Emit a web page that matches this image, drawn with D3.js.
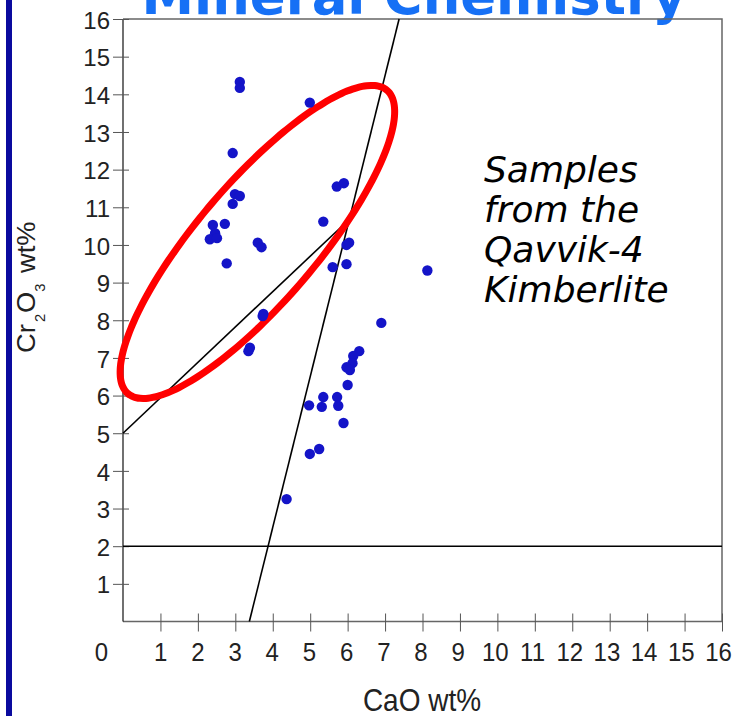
<!DOCTYPE html>
<html>
<head>
<meta charset="utf-8">
<script src="https://cdn.jsdelivr.net/npm/d3@7/dist/d3.min.js"></script>
<style>
  html, body { margin: 0; padding: 0; background: #fff; }
  svg { display: block; }
</style>
</head>
<body>
<svg id="chart" width="733" height="716"></svg>
<script>
// ---------- data ----------
const caO = [3.12, 3.12, 4.99, 2.93, 2.99, 3.12, 2.93, 2.40, 2.72, 2.46, 2.32, 2.51,
             3.60, 3.70, 2.77, 5.71, 5.90, 5.35, 5.97, 6.04, 5.60, 5.97, 8.13, 3.75,
             3.73, 3.39, 3.35, 6.90, 6.31, 6.15, 6.13, 5.97, 6.06, 6.00, 5.35, 5.72,
             4.97, 5.31, 5.75, 5.89, 5.24, 4.99, 4.37];
const cr2o3 = [14.33, 14.17, 13.78, 12.44, 11.35, 11.30, 11.09, 10.53, 10.56, 10.31, 10.15, 10.18,
               10.06, 9.94, 9.51, 11.55, 11.64, 10.62, 10.00, 10.06, 9.41, 9.49, 9.32, 8.17,
               8.11, 7.27, 7.18, 7.93, 7.18, 7.05, 6.86, 6.75, 6.68, 6.28, 5.96, 5.96,
               5.74, 5.70, 5.73, 5.27, 4.58, 4.45, 3.25];
const xTickValues = [1,2,3,4,5,6,7,8,9,10,11,12,13,14,15,16];
const yTickValues = [1,2,3,4,5,6,7,8,9,10,11,12,13,14,15,16];
const axisDomain = [0, 16];
// guide lines
const hLineCr = 2;                       // Cr2O3 = 2 horizontal line
const steepLine = {a: 3.375, b: 0.25};   // CaO = a + b*Cr2O3
const diagLine = {c: 5.0, m: 0.94};      // Cr2O3 = c + m*CaO (until steep line)
// highlighted field (ellipse, data units)
const ellipseField = {cx: 3.59, cy: 10.08, rx: 5.31, ry: 1.59, angleDeg: 49.3};
const titleText = "Mineral Chemistry";
const noteLines = ["Samples", "from the", "Qavvik-4", "Kimberlite"];

// ---------- chart ----------
const svg = d3.select("#chart");
const x = d3.scaleLinear().domain(axisDomain).range([123, 722]);
const y = d3.scaleLinear().domain(axisDomain).range([621.5, 19]);

// left blue bar
svg.append("rect").attr("x", 6).attr("y", 0).attr("width", 6).attr("height", 716).attr("fill", "#0a0a9e");

// title (cut off at top)
svg.append("text").attr("x", 414).attr("y", 14)
  .attr("text-anchor", "middle")
  .attr("font-family", "DejaVu Sans, Verdana, sans-serif")
  .attr("font-weight", "bold").attr("font-size", 54)
  .attr("fill", "#1670f5")
  .attr("textLength", 545).attr("lengthAdjust", "spacingAndGlyphs")
  .text(titleText);

// frame (top/right)
svg.append("path")
  .attr("d", `M${x(0)},${y(16)}H${x(16)}V${y(0)}`)
  .attr("fill", "none").attr("stroke", "#666").attr("stroke-width", 1.5);

// axes
const xAxis = svg.append("g").attr("transform", `translate(0,${y(0)})`)
  .call(d3.axisBottom(x).tickValues(xTickValues).tickFormat(d3.format("d")).tickSizeOuter(0));
xAxis.select(".domain").attr("d", `M${x(0)},0H${x(16)}`).attr("stroke", "#666").attr("stroke-width", 1.5);
xAxis.selectAll(".tick line").attr("y1", -8).attr("y2", 10).attr("stroke", "#555");
xAxis.selectAll(".tick text").attr("y", 0).attr("dy", 0)
  .attr("transform", d => `translate(${-0.25 * d},39.5) scale(1,1.08)`)
  .attr("font-family", "Liberation Sans, Arial, sans-serif").attr("font-size", 24).attr("fill", "#222");

const yAxis = svg.append("g").attr("transform", `translate(${x(0)},0)`)
  .call(d3.axisLeft(y).tickValues(yTickValues).tickFormat(d3.format("d")).tickSizeOuter(0));
yAxis.select(".domain").attr("d", `M0,${y(0)}V${y(16)}`).attr("stroke", "#111").attr("stroke-width", 1.2);
yAxis.selectAll(".tick line").attr("x1", 6).attr("x2", -10).attr("stroke", "#555");
yAxis.selectAll(".tick text").attr("x", -13).attr("dy", "0.38em")
  .attr("font-family", "Liberation Sans, Arial, sans-serif").attr("font-size", 24).attr("fill", "#222");

// origin label
svg.append("text").attr("transform", "translate(108,661) scale(1,1.08)").attr("text-anchor", "end")
  .attr("font-family", "Liberation Sans, Arial, sans-serif").attr("font-size", 24).attr("fill", "#222")
  .text("0");

// axis titles
svg.append("text").attr("transform", "translate(422,711) scale(1,1.12)").attr("text-anchor", "middle")
  .attr("font-family", "Liberation Sans, Arial, sans-serif").attr("font-size", 28).attr("fill", "#222")
  .text("CaO wt%");

const yl = svg.append("text").attr("transform", "translate(35,353) rotate(-90) scale(1.05,1)")
  .attr("font-family", "Liberation Sans, Arial, sans-serif").attr("font-size", 26).attr("fill", "#222");
yl.append("tspan").text("Cr");
yl.append("tspan").attr("font-size", 14).attr("dx", 2).attr("dy", 10).text("2");
yl.append("tspan").attr("dx", 1).attr("dy", -10).text("O");
yl.append("tspan").attr("font-size", 14).attr("dy", 10).text("3");
yl.append("tspan").attr("dx", 10).attr("dy", -10).text("wt%");

// guide lines
const line = d3.line().x(d => x(d[0])).y(d => y(d[1]));
svg.append("path").datum([[0, hLineCr], [16, hLineCr]]).attr("d", line)
  .attr("fill", "none").attr("stroke", "#000").attr("stroke-width", 1.6);
svg.append("path").datum([[steepLine.a, 0], [steepLine.a + steepLine.b * 16, 16]]).attr("d", line)
  .attr("fill", "none").attr("stroke", "#000").attr("stroke-width", 1.6);
const xi = (steepLine.a + steepLine.b * diagLine.c) / (1 - steepLine.b * diagLine.m);
svg.append("path").datum([[0, diagLine.c], [xi, diagLine.c + diagLine.m * xi]]).attr("d", line)
  .attr("fill", "none").attr("stroke", "#000").attr("stroke-width", 1.6);

// ellipse field
const th = ellipseField.angleDeg * Math.PI / 180;
const ePts = d3.range(0, 360, 3).map(a => {
  const t = a * Math.PI / 180;
  const ex = ellipseField.rx * Math.cos(t), ey = ellipseField.ry * Math.sin(t);
  return [ellipseField.cx + ex * Math.cos(th) - ey * Math.sin(th),
          ellipseField.cy + ex * Math.sin(th) + ey * Math.cos(th)];
});
svg.append("path").datum(ePts).attr("d", d3.line().x(d => x(d[0])).y(d => y(d[1])).curve(d3.curveCardinalClosed))
  .attr("fill", "none").attr("stroke", "#ff0000").attr("stroke-width", 7);

// points
svg.append("g").selectAll("circle").data(caO.map((c, i) => [c, cr2o3[i]])).join("circle")
  .attr("cx", d => x(d[0])).attr("cy", d => y(d[1])).attr("r", 5.2)
  .attr("fill", "#1414c8");

// annotation
const note = svg.append("text").attr("font-family", "DejaVu Sans, Verdana, sans-serif")
  .attr("font-style", "italic").attr("font-size", 36).attr("fill", "#000");
noteLines.forEach((t, i) => note.append("tspan").attr("x", 484).attr("y", 182 + i * 40).text(t));
</script>
</body>
</html>
